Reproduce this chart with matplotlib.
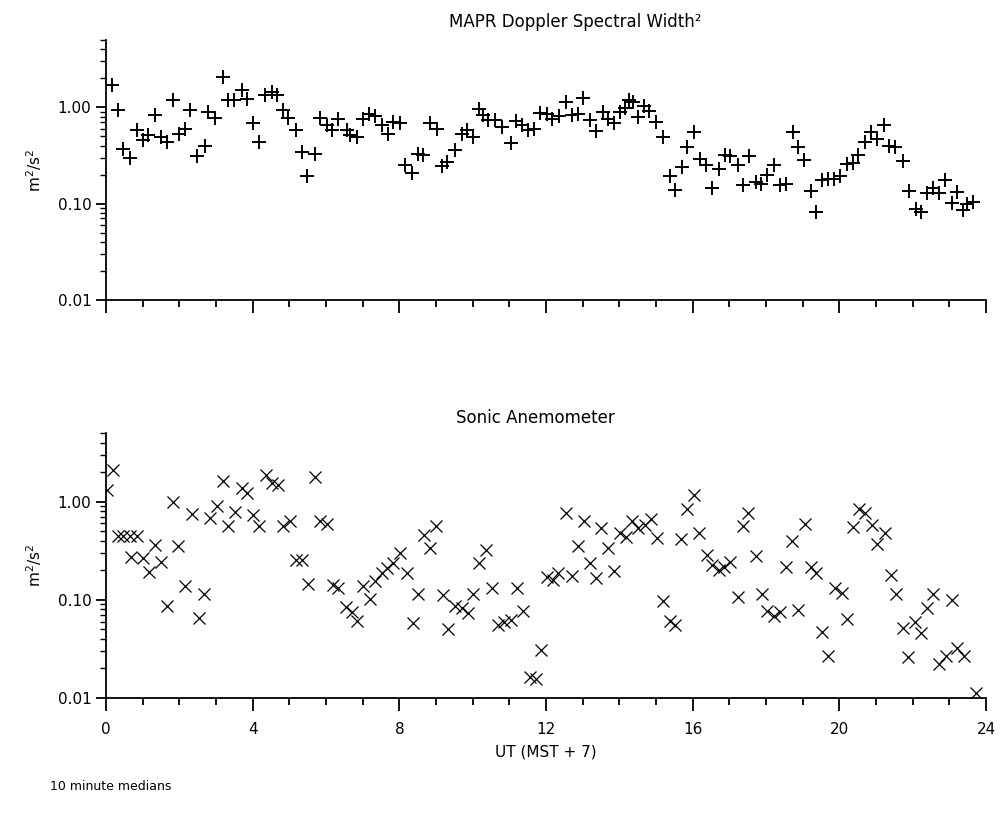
import numpy as np
import matplotlib
matplotlib.use("Agg")
import matplotlib.pyplot as plt
from matplotlib.ticker import FixedLocator, NullFormatter, LogLocator

# MAPR Doppler spectral width^2 (10 minute medians), hours UT
mapr_uur = [0.16, 0.34, 0.47, 0.65, 0.84, 1.00, 1.15, 1.34, 1.50, 1.66,
            1.84, 1.99, 2.15, 2.29, 2.49, 2.70, 2.79, 2.97, 3.18, 3.34,
            3.50, 3.70, 3.84, 4.00, 4.18, 4.34, 4.52, 4.66, 4.82, 4.97,
            5.18, 5.34, 5.49, 5.70, 5.84, 6.02, 6.15, 6.33, 6.56, 6.65,
            6.84, 7.02, 7.18, 7.34, 7.52, 7.70, 7.83, 8.02,
            8.15, 8.34, 8.52, 8.65, 8.84, 9.02, 9.15, 9.29, 9.52, 9.70,
            9.84, 10.02, 10.18, 10.29, 10.43, 10.61, 10.79, 11.04, 11.18, 11.34,
            11.52, 11.68, 11.84, 12.02, 12.17, 12.36, 12.54, 12.70, 12.88, 13.02,
            13.20, 13.36, 13.55, 13.70, 13.85, 14.02, 14.15, 14.27, 14.36, 14.52,
            14.67, 14.82, 15.00, 15.20, 15.38, 15.52, 15.70, 15.84,
            16.04, 16.20, 16.36, 16.53, 16.72, 16.88, 17.02, 17.23, 17.36, 17.53,
            17.73, 17.86, 18.03, 18.23, 18.38, 18.54, 18.73, 18.88, 19.04, 19.22,
            19.36, 19.54, 19.70, 19.86, 20.02, 20.20, 20.36, 20.52, 20.70, 20.86,
            21.02, 21.22, 21.35, 21.52, 21.73, 21.91, 22.09, 22.24, 22.38, 22.56,
            22.72, 22.88, 23.06, 23.22, 23.36, 23.47, 23.65]
mapr_w2 = [1.72, 0.93, 0.373, 0.30, 0.58, 0.46, 0.51, 0.84, 0.49, 0.44,
           1.20, 0.53, 0.60, 0.93, 0.31, 0.40, 0.89, 0.77, 2.06, 1.18,
           1.18, 1.50, 1.23, 0.68, 0.44, 1.33, 1.44, 1.33, 0.93, 0.77,
           0.58, 0.34, 0.194, 0.33, 0.77, 0.65, 0.58, 0.75, 0.58, 0.51,
           0.49, 0.76, 0.86, 0.81, 0.65, 0.53, 0.70, 0.68,
           0.25, 0.21, 0.33, 0.32, 0.68, 0.60, 0.245, 0.27, 0.36, 0.53,
           0.58, 0.49, 0.97, 0.83, 0.73, 0.73, 0.63, 0.43, 0.72, 0.65,
           0.58, 0.60, 0.87, 0.86, 0.75, 0.81, 1.13, 0.83, 0.86, 1.25,
           0.73, 0.57, 0.89, 0.76, 0.68, 0.89, 0.99, 1.18, 1.13, 0.79,
           1.02, 0.92, 0.70, 0.49, 0.193, 0.14, 0.24, 0.39,
           0.55, 0.29, 0.25, 0.144, 0.226, 0.32, 0.31, 0.25, 0.155, 0.31,
           0.168, 0.159, 0.197, 0.25, 0.155, 0.159, 0.55, 0.39, 0.287, 0.136,
           0.082, 0.175, 0.179, 0.182, 0.193, 0.26, 0.265, 0.32, 0.44, 0.55,
           0.47, 0.66, 0.40, 0.39, 0.28, 0.136, 0.087, 0.082, 0.128, 0.144,
           0.13, 0.175, 0.102, 0.133, 0.086, 0.10, 0.104]

# sonic anemometer
sonic_uur = [0.04, 0.18, 0.34, 0.45, 0.65, 0.84, 0.67, 1.00, 1.18, 1.34,
             1.49, 1.66, 1.82, 1.97, 2.16, 2.34, 2.54, 2.68, 2.84, 3.02,
             3.18, 3.34, 3.52, 3.70, 3.84, 4.02, 4.18, 4.35, 4.52, 4.70,
             4.84, 5.02, 5.17, 5.34, 5.52, 5.70, 5.84, 6.02, 6.18, 6.34,
             6.54, 6.70, 6.85, 7.02, 7.20, 7.34, 7.52, 7.67, 7.83, 8.02,
             8.20, 8.36, 8.52, 8.66, 8.84, 9.00, 9.18, 9.34, 9.52, 9.70,
             9.86, 10.02, 10.18, 10.35, 10.54, 10.69, 10.86, 11.04, 11.20, 11.36,
             11.55, 11.72, 11.86, 12.02, 12.18, 12.34, 12.55, 12.70, 12.86, 13.04,
             13.20, 13.36, 13.50, 13.70, 13.86, 14.02, 14.18, 14.34, 14.52, 14.70,
             14.86, 15.02, 15.20, 15.38, 15.52, 15.68, 15.84,
             16.04, 16.18, 16.38, 16.53, 16.72, 16.86, 17.02, 17.23, 17.36, 17.52,
             17.73, 17.88, 18.03, 18.21, 18.38, 18.54, 18.72, 18.88, 19.06, 19.24,
             19.37, 19.54, 19.70, 19.88, 20.06, 20.20, 20.36, 20.54, 20.70, 20.88,
             21.04, 21.24, 21.40, 21.54, 21.73, 21.88, 22.06, 22.24, 22.40, 22.55,
             22.72, 22.90, 23.06, 23.22, 23.39, 23.72]
sonic_w2 = [1.32, 2.1, 0.45, 0.45, 0.45, 0.45, 0.27, 0.264, 0.193, 0.36,
            0.244, 0.086, 1.0, 0.35, 0.139, 0.74, 0.065, 0.114, 0.68, 0.91,
            1.64, 0.56, 0.79, 1.37, 1.22, 0.73, 0.56, 1.87, 1.54, 1.48,
            0.56, 0.63, 0.254, 0.254, 0.145, 1.80, 0.63, 0.59, 0.143, 0.131,
            0.084, 0.075, 0.061, 0.139, 0.103, 0.155, 0.189, 0.21, 0.235, 0.30,
            0.189, 0.058, 0.114, 0.457, 0.334, 0.56, 0.112, 0.050, 0.086, 0.082,
            0.074, 0.114, 0.239, 0.32, 0.131, 0.055, 0.060, 0.062, 0.131, 0.077,
            0.0164, 0.0155, 0.0307, 0.172, 0.159, 0.186, 0.77, 0.176, 0.35, 0.64,
            0.235, 0.165, 0.535, 0.334, 0.196, 0.476, 0.44, 0.64, 0.535, 0.58,
            0.67, 0.43, 0.098, 0.061, 0.056, 0.413, 0.84,
            1.17, 0.48, 0.286, 0.226, 0.20, 0.217, 0.244, 0.107, 0.565, 0.77,
            0.279, 0.114, 0.077, 0.068, 0.075, 0.217, 0.40, 0.079, 0.59, 0.217,
            0.186, 0.047, 0.027, 0.131, 0.118, 0.063, 0.55, 0.84, 0.77, 0.58,
            0.37, 0.48, 0.179, 0.114, 0.052, 0.026, 0.060, 0.046, 0.082, 0.114,
            0.022, 0.0267, 0.099, 0.032, 0.0267, 0.0112]

x_ticks = [0, 4, 8, 12, 16, 20, 24]
y_ticks = [0.01, 0.1, 1.0]
y_labels = ["0.01", "0.10", "1.00"]

plt.rcParams['font.family'] = ['DejaVu Sans']

fig = plt.figure(figsize=(10.05, 8.17), dpi=100)

def opmaak(ax, labels):
    ax.set_yscale('log')
    ax.set_xlim(0, 24)
    ax.set_ylim(0.01, 5)
    for s in ['top', 'right']:
        ax.spines[s].set_visible(False)
    for s in ['left', 'bottom']:
        ax.spines[s].set_linewidth(1.3)
    ax.xaxis.set_major_locator(FixedLocator(x_ticks))
    ax.xaxis.set_minor_locator(FixedLocator(range(25)))
    ax.yaxis.set_major_locator(FixedLocator(y_ticks))
    ax.yaxis.set_minor_locator(LogLocator(base=10, subs=range(2, 10)))
    ax.yaxis.set_minor_formatter(NullFormatter())
    ax.set_yticklabels(y_labels, fontsize=11)
    if labels:
        ax.set_xticklabels([str(t) for t in x_ticks], fontsize=11)
    else:
        ax.set_xticklabels([])
    ax.tick_params(axis='x', which='major', length=9, width=1.3, pad=8)
    ax.tick_params(axis='x', which='minor', length=5, width=1.3)
    ax.tick_params(axis='y', which='major', length=7, width=1.3)
    ax.tick_params(axis='y', which='minor', length=4, width=1.0)
    ax.set_ylabel(r"m$^2$/s$^2$", fontsize=11, labelpad=10)

ax1 = fig.add_axes([0.1055, 0.633, 0.8756, 0.318])
ax1.plot(mapr_uur, mapr_w2, '+', color='black', markersize=10, markeredgewidth=1.4)
opmaak(ax1, False)
ax1.text(0.533, 1.07, "MAPR Doppler Spectral Width²", transform=ax1.transAxes,
         ha='center', va='center', fontsize=12)

ax2 = fig.add_axes([0.1055, 0.1457, 0.8756, 0.3243])
ax2.plot(sonic_uur, sonic_w2, 'x', color='black', markersize=9, markeredgewidth=0.9)
opmaak(ax2, True)
ax2.text(0.4875, 1.055, "Sonic Anemometer", transform=ax2.transAxes,
         ha='center', va='center', fontsize=12)
ax2.set_xlabel("UT (MST + 7)", fontsize=11, labelpad=6)

fig.text(0.05, 1 - 787/817, "10 minute medians", fontsize=9, ha='left', va='center')

plt.savefig("out.png", dpi=100)
